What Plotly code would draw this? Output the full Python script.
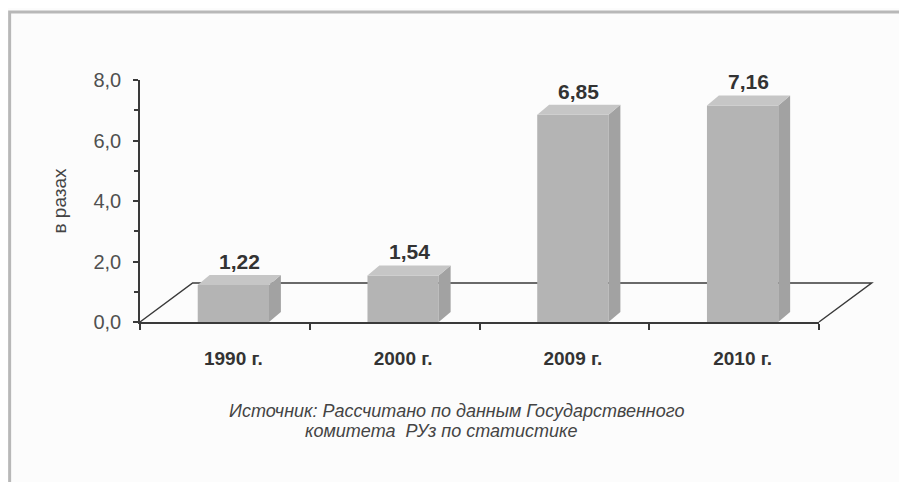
import plotly.graph_objects as go

categories = ["1990 г.", "2000 г.", "2009 г.", "2010 г."]
values = [1.22, 1.54, 6.85, 7.16]
y_ticks = [0, 2, 4, 6, 8]
y_title = "в разах"
source_lines = ["Источник: Рассчитано по данным Государственного",
                "комитета  РУз по статистике"]

x = list(range(len(categories)))
shift = 0.05          # bar center offset (3D depth look)
bw = 0.42             # bar front width
dx, dy = 0.07, 0.33   # depth of bar side/top faces (data units)
floor_dx, floor_dy = 0.31, 1.29
x_range = [-0.5, 3.5]
y_range = [0, 8]

front, side, top = "#b4b4b4", "#a2a2a2", "#c6c6c6"
axis_c = "#3a3a3a"
FONT = "Liberation Sans, Arial, sans-serif"


def px(xd):  # data x -> paper x
    return (xd - x_range[0]) / (x_range[1] - x_range[0])


def py(yd):  # data y -> paper y
    return (yd - y_range[0]) / (y_range[1] - y_range[0])


fig = go.Figure()
fig.add_trace(go.Bar(
    x=[xi + shift for xi in x], y=values, width=bw,
    marker=dict(color=front, line=dict(width=0)),
    hoverinfo="skip", showlegend=False,
))

shapes = []
fx0, fx1 = x_range[0], x_range[1]
shapes.append(dict(type="path", xref="paper", yref="paper", layer="below",
                   path=(f"M {px(fx0)},{py(0)} L {px(fx0+floor_dx)},{py(floor_dy)} "
                         f"L {px(fx1+floor_dx)},{py(floor_dy)} L {px(fx1)},{py(0)}"),
                   line=dict(color=axis_c, width=1.5)))
annotations = []
for xi, v in zip(x, values):
    x0 = xi + shift - bw / 2
    x1 = xi + shift + bw / 2
    shapes.append(dict(type="path", xref="x", yref="y", layer="above",
                       path=f"M {x1},0 L {x1+dx},{dy} L {x1+dx},{v+dy} L {x1},{v} Z",
                       fillcolor=side, line=dict(width=0)))
    shapes.append(dict(type="path", xref="x", yref="y", layer="above",
                       path=f"M {x0},{v} L {x0+dx},{v+dy} L {x1+dx},{v+dy} L {x1},{v} Z",
                       fillcolor=top, line=dict(width=0)))
    annotations.append(dict(x=xi + shift + dx / 2, y=v + dy, xref="x", yref="y",
                            text=f"<b>{v:.2f}</b>".replace(".", ","),
                            showarrow=False, yanchor="bottom", yshift=0,
                            font=dict(family=FONT, size=21, color="#333333")))

src_x = [0.466, 0.444]
for i, line in enumerate(source_lines):
    annotations.append(dict(x=src_x[i], y=-0.368 - i * 0.081, xref="paper", yref="paper",
                            text=f"<i>{line}</i>", showarrow=False, yanchor="middle",
                            font=dict(family=FONT, size=18, color="#444444")))

# outer frame of the scanned figure
shapes.append(dict(type="rect", xref="paper", yref="paper",
                   x0=-0.192, x1=1.135, y0=-0.8, y1=1.281,
                   line=dict(color="#b8b8b8", width=3), layer="below"))

fig.update_layout(
    width=899, height=474,
    margin=dict(l=132, r=88, t=72, b=160),
    paper_bgcolor="#fcfcfc", plot_bgcolor="rgba(0,0,0,0)",
    separators=", ",
    font=dict(family=FONT, color="#333333"),
    shapes=shapes, annotations=annotations,
    xaxis=dict(range=x_range, tickvals=[xi + shift for xi in x],
               ticktext=[f"<b>{c}</b>" for c in categories],
               ticks="", showgrid=False, zeroline=False, showline=True,
               linecolor=axis_c, linewidth=1.5, ticklabelstandoff=18,
               tickfont=dict(family=FONT, size=19, color="#333333"),
               minor=dict(ticks="outside", tick0=-0.5, dtick=1, ticklen=6,
                          tickcolor=axis_c, tickwidth=1.5)),
    yaxis=dict(range=y_range, tickvals=y_ticks, tickformat=".1f", ticks="outside", ticklen=5,
               tickcolor=axis_c, tickwidth=1.5, ticklabelstandoff=8,
               showgrid=False, zeroline=False, showline=True, linecolor=axis_c, linewidth=1.5,
               tickfont=dict(family=FONT, size=20, color="#505050"),
               title=dict(text=y_title, font=dict(family=FONT, size=19, color="#444444"), standoff=22),
               minor=dict(ticks="outside", dtick=1, ticklen=4, tickcolor=axis_c, tickwidth=1.5)),
)

fig.write_html("out.html")
